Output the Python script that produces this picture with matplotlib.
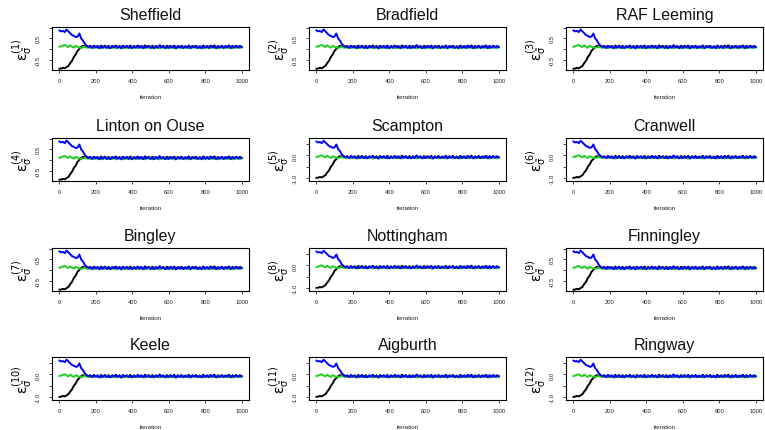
import numpy as np
import matplotlib
matplotlib.use("Agg")
import matplotlib.pyplot as plt

plt.rcParams['font.family'] = ['Liberation Sans', 'DejaVu Sans']
plt.rcParams['mathtext.fontset'] = 'dejavusans'

# ---------------- data ----------------
stations = ["Sheffield", "Bradfield", "RAF Leeming",
            "Linton on Ouse", "Scampton", "Cranwell",
            "Bingley", "Nottingham", "Finningley",
            "Keele", "Aigburth", "Ringway"]

# converged level and spread of the traces in each panel
panel_level = [0.10, 0.10, 0.10, 0.10, -0.08, -0.08,
               0.10, -0.08, 0.10, -0.08, -0.08, -0.08]
panel_spread = [1.10, 1.10, 1.10, 1.10, 1.00, 1.00,
                1.10, 1.00, 1.10, 1.00, 1.00, 1.00]
panel_ylim = [(-0.97, 1.03), (-0.97, 1.03), (-0.97, 1.03),
              (-0.97, 1.03), (-1.14, 0.78), (-1.14, 0.78),
              (-0.97, 1.03), (-1.14, 0.78), (-0.97, 1.03),
              (-1.14, 0.78), (-1.14, 0.78), (-1.14, 0.78)]
yticks_A = [-0.5, 0.0, 0.5, 1.0]
yticklabels_A = ["-0.5", "", "0.5", ""]
yticks_B = [-1.0, -0.5, 0.0, 0.5]
yticklabels_B = ["-1.0", "", "0.0", ""]
panel_class = ["A", "A", "A", "A", "B", "B", "A", "B", "A", "B", "B", "B"]

xticks = [0, 200, 400, 600, 800, 1000]

# iterations sampled: 1, 10, 20, ..., 1000
iterations = np.concatenate([[1], np.arange(10, 1001, 10)])

# burn-in part (iterations 1..160), relative to converged level
black_head = [-0.92, -0.91, -0.88, -0.90, -0.85, -0.80, -0.68, -0.58, -0.42,
              -0.32, -0.16, -0.08, 0.00, 0.05, 0.02, 0.03, 0.01]
blue_head = [0.70, 0.66, 0.68, 0.63, 0.74, 0.66, 0.58, 0.50, 0.47,
             0.42, 0.44, 0.57, 0.36, 0.27, 0.13, 0.05, 0.00]
green_head = [0.01, 0.03, 0.06, 0.09, 0.03, 0.00, 0.07, 0.01, -0.03, 0.05,
              0.01, -0.02, -0.04, -0.01, 0.01, -0.02, -0.03]

# converged part (iterations 170..1000)
blue_tail = [0.03, -0.04, 0.05, -0.02, 0.04, -0.05, 0.02, -0.03, 0.06, -0.04,
             0.01, -0.05, 0.04, -0.02, 0.05, -0.03, 0.02, -0.06, 0.04, -0.01,
             0.05, -0.04, 0.03, -0.05, 0.02, -0.02, 0.06, -0.03, 0.04, -0.05,
             0.03, -0.02, 0.05, -0.04, 0.01, -0.05, 0.04, -0.03, 0.08, -0.02,
             0.03, -0.05, 0.02, -0.04, 0.05, -0.02, 0.04, -0.06, 0.03, -0.03,
             0.05, -0.04, 0.02, -0.03, 0.06, -0.05, 0.03, -0.02, 0.04, -0.04,
             0.02, -0.05, 0.05, -0.03, 0.03, -0.04, 0.06, -0.02, 0.04, -0.05,
             0.02, -0.03, 0.05, -0.04, 0.03, -0.02, 0.06, -0.05, 0.04, -0.03,
             0.05, -0.02, 0.03, -0.01]
black_tail = [0.04, -0.02, 0.05, 0.00, 0.03, -0.03, 0.06, -0.01, 0.04, -0.02,
              0.05, -0.03, 0.03, 0.01, 0.06, -0.02, 0.04, -0.01, 0.05, -0.03,
              0.02, 0.00, 0.06, -0.02, 0.04, -0.03, 0.05, 0.01, 0.03, -0.02,
              0.07, -0.01, 0.04, -0.03, 0.05, 0.00, 0.03, -0.02, 0.06, -0.01,
              0.04, -0.03, 0.05, 0.01, 0.03, -0.02, 0.06, -0.02, 0.04, 0.00,
              0.05, -0.03, 0.03, -0.01, 0.06, -0.02, 0.04, 0.01, 0.05, -0.03,
              0.03, -0.01, 0.06, -0.02, 0.04, -0.03, 0.05, 0.00, 0.07, -0.02,
              0.04, -0.01, 0.05, -0.03, 0.03, 0.01, 0.06, -0.02, 0.04, -0.01,
              0.05, -0.02, 0.04, 0.01]
green_tail = [-0.03, 0.02, -0.05, 0.01, -0.04, 0.03, -0.06, 0.00, -0.03, 0.02,
              -0.05, 0.01, -0.04, 0.02, -0.06, -0.01, -0.03, 0.03, -0.05, 0.00,
              -0.04, 0.02, -0.06, 0.01, -0.03, 0.02, -0.05, -0.01, -0.04, 0.03,
              -0.06, 0.00, -0.03, 0.02, -0.05, 0.01, -0.04, 0.02, -0.06, -0.01,
              -0.03, 0.03, -0.05, 0.00, -0.04, 0.02, -0.06, 0.01, -0.03, 0.02,
              -0.05, -0.01, -0.04, 0.03, -0.06, 0.00, -0.03, 0.02, -0.05, 0.01,
              -0.04, 0.02, -0.06, -0.01, -0.03, 0.03, -0.05, 0.00, -0.04, 0.02,
              -0.06, 0.01, -0.03, 0.02, -0.05, -0.01, -0.04, 0.03, -0.06, 0.00,
              -0.03, 0.02, -0.05, 0.01]

black_rel = np.array(black_head + black_tail)
blue_rel = np.array(blue_head + blue_tail)
green_rel = np.array(green_head + green_tail)

# ---------------- layout ----------------
W, H = 765, 431
fig = plt.figure(figsize=(W / 100, H / 100), dpi=100)
col_left = [52, 309, 566]
row_top = [28, 139, 249, 358]
box_w, box_h = 197, 43

for i, name in enumerate(stations):
    r, c = divmod(i, 3)
    l, t = col_left[c], row_top[r]
    ax = fig.add_axes([l / W, 1 - (t + box_h) / H, box_w / W, box_h / H])
    lev, spr = panel_level[i], panel_spread[i]
    ax.plot(iterations, lev + spr * black_rel, color='black', lw=1.4)
    ax.plot(iterations, lev + spr * green_rel, color='#22cc22', lw=1.4)
    ax.plot(iterations, lev + spr * blue_rel, color='#0000ff', lw=1.4)
    ax.set_xlim(-40, 1040)
    ax.set_ylim(*panel_ylim[i])
    ax.set_xticks(xticks)
    ax.set_xticklabels([str(v) for v in xticks])
    if panel_class[i] == "A":
        ax.set_yticks(yticks_A)
        ax.set_yticklabels(yticklabels_A, rotation=90, va='center')
    else:
        ax.set_yticks(yticks_B)
        ax.set_yticklabels(yticklabels_B, rotation=90, va='center')
    ax.tick_params(axis='both', labelsize=4.2, length=2.2, width=0.6,
                   color='#222222', labelcolor='#222222')
    ax.tick_params(axis='x', pad=3.6)
    ax.tick_params(axis='y', pad=6.2)
    for sp in ax.spines.values():
        sp.set_linewidth(0.8)
    ax.set_title(name, fontsize=11.5, pad=5.8, color='#111111')
    ax.annotate('iteration', xy=(0.5, 0), xycoords='axes fraction',
                xytext=(0, -19.4), textcoords='offset points',
                ha='center', va='center', fontsize=4.5, color='#222222')
    ax.annotate(r'$\mathrm{\epsilon}_{\tilde{\mathrm{\sigma}}}^{(%d)}$' % (i + 1),
                xy=(0, 0.5), xycoords='axes fraction',
                xytext=(-12.8, 0), textcoords='offset points',
                rotation=90, ha='right', va='center', fontsize=10)

fig.savefig('out.png', dpi=100)
